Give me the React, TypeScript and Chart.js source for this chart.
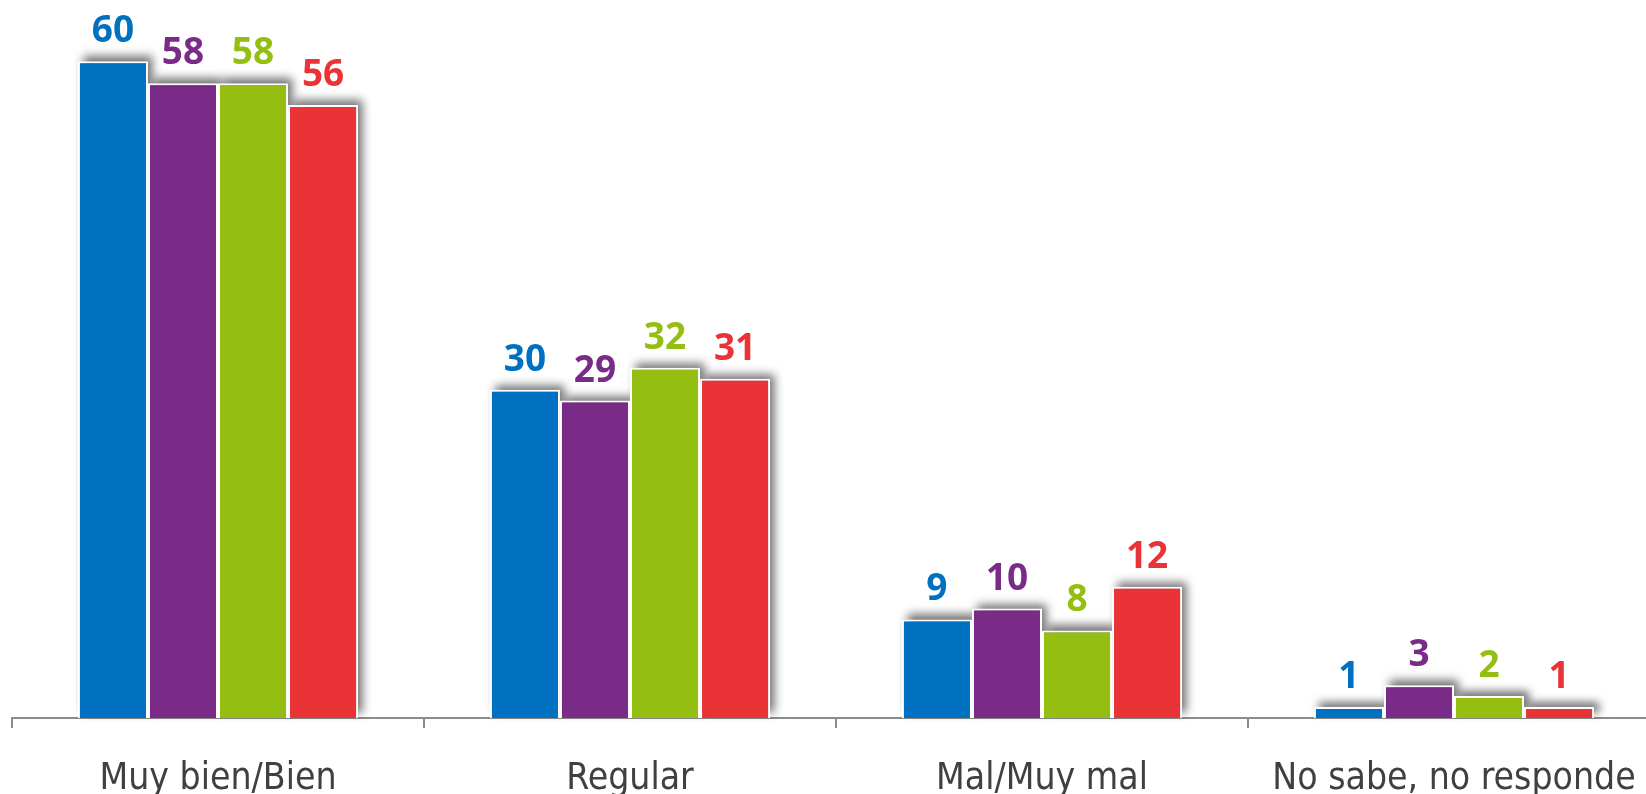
import React, { useEffect, useRef } from "react";
import { Chart, registerables } from "chart.js";

Chart.register(...registerables);

const categories = ["Muy bien/Bien", "Regular", "Mal/Muy mal", "No sabe, no responde"];
const seriesA = [60, 30, 9, 1];
const seriesB = [58, 29, 10, 3];
const seriesC = [58, 32, 8, 2];
const seriesD = [56, 31, 12, 1];
const seriesNames = ["Serie 1", "Serie 2", "Serie 3", "Serie 4"];
const colors = ["#0070C0", "#7A2A87", "#95BE12", "#EA3336"];

const OFF = 5000;

const shadowPlugin = {
  id: "barShadow",
  beforeDatasetsDraw(chart: any) {
    const ctx = chart.ctx;
    ctx.save();
    chart.data.datasets.forEach((_ds: any, i: number) => {
      const meta = chart.getDatasetMeta(i);
      meta.data.forEach((bar: any) => {
        const { x, y, base, width } = bar.getProps(["x", "y", "base", "width"], true);
        const left = x - width / 2;
        ctx.shadowColor = "rgba(0,0,0,0.55)";
        ctx.shadowBlur = 9;
        ctx.shadowOffsetX = OFF + 5;
        ctx.shadowOffsetY = -5;
        ctx.fillStyle = "#000";
        ctx.fillRect(left - OFF, y, width, base - y);
      });
    });
    ctx.restore();
  },
};

const labelPlugin = {
  id: "barLabels",
  afterDatasetsDraw(chart: any) {
    const ctx = chart.ctx;
    ctx.save();
    ctx.font = "bold 37px 'Open Sans'";
    ctx.textAlign = "center";
    ctx.textBaseline = "alphabetic";
    chart.data.datasets.forEach((ds: any, i: number) => {
      const meta = chart.getDatasetMeta(i);
      meta.data.forEach((bar: any, j: number) => {
        const { x, y } = bar.getProps(["x", "y"], true);
        ctx.fillStyle = colors[i];
        ctx.fillText(String(ds.data[j]), x, y - 19);
      });
    });
    ctx.restore();
  },
};

export default function App() {
  const ref = useRef<HTMLCanvasElement>(null);
  useEffect(() => {
    if (!ref.current) return;
    const series = [seriesA, seriesB, seriesC, seriesD];
    const chart = new Chart(ref.current, {
      type: "bar",
      data: {
        labels: categories,
        datasets: series.map((d, i) => ({
          label: seriesNames[i],
          data: d,
          backgroundColor: colors[i],
          borderColor: "#ffffff",
          borderWidth: 2,
          categoryPercentage: 0.68,
          barPercentage: 1.0,
        })),
      },
      options: {
        responsive: false,
        devicePixelRatio: 1,
        animation: false,
        layout: { padding: { left: 12, right: 20, top: 0, bottom: 0 } },
        plugins: { legend: { display: false }, tooltip: { enabled: false } },
        scales: {
          x: {
            afterFit: (scale: any) => {
              scale.height = 76;
            },
            grid: {
              display: true,
              drawOnChartArea: false,
              drawTicks: true,
              tickLength: 10,
              color: "#8c8c8c",
              lineWidth: 2,
              offset: true,
            },
            border: { display: true, color: "#8c8c8c", width: 2 },
            ticks: {
              color: "#404040",
              font: { family: "'DejaVu Sans Condensed', 'DejaVu Sans'", size: 37 },
              padding: 29,
              maxRotation: 0,
              autoSkip: false,
            },
          },
          y: { display: false, min: 0, max: 65.6 },
        },
      },
      plugins: [shadowPlugin, labelPlugin],
    });
    return () => chart.destroy();
  }, []);
  return (
    <div
      style={{
        position: "fixed",
        left: 0,
        top: 0,
        width: 1646,
        height: 794,
        overflow: "hidden",
        background: "#fff",
      }}
    >
      <canvas ref={ref} width={1680} height={794} style={{ display: "block" }} />
    </div>
  );
}
